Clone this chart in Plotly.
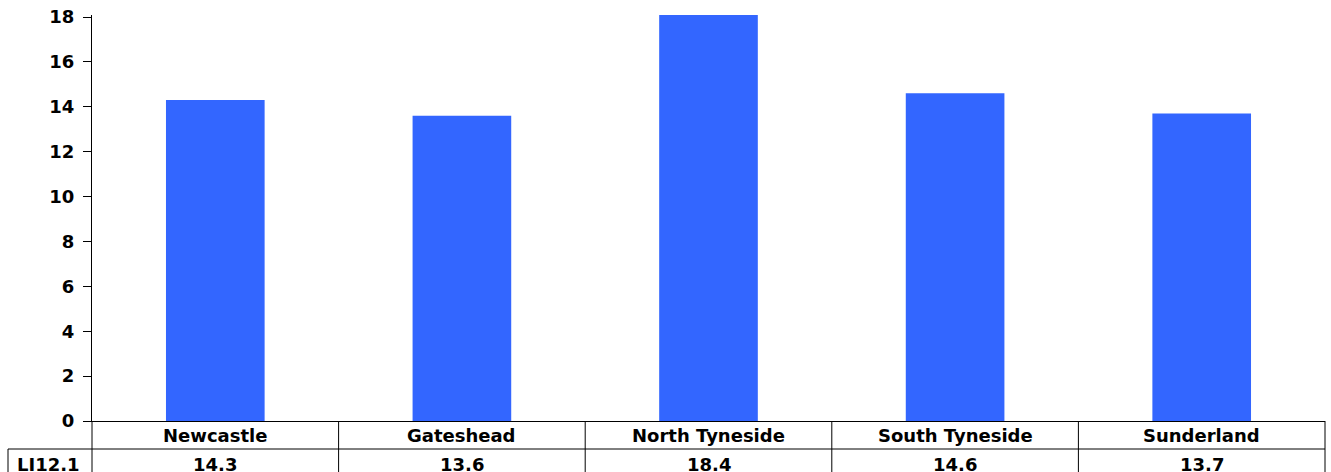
import plotly.graph_objects as go

categories = ["Newcastle", "Gateshead", "North Tyneside", "South Tyneside", "Sunderland"]
values = [14.3, 13.6, 18.4, 14.6, 13.7]
value_labels = ["14.3", "13.6", "18.4", "14.6", "13.7"]
row_label = "LI12.1"
y_ticks = [0, 2, 4, 6, 8, 10, 12, 14, 16, 18]

W, H = 1331, 472
L, R, T, B = 92, 6, 15, 51
pw = W - L - R
ph = H - T - B

def py(p):
    return (H - B - p) / ph

def px(p):
    return (p - L) / pw

FONT = "DejaVu Sans, Arial, sans-serif"

fig = go.Figure(go.Bar(
    x=list(range(len(categories))), y=values,
    marker=dict(color="#3366FF", line=dict(width=0)),
    width=0.4, hoverinfo="skip",
))

shapes = []
line = dict(color="black", width=1)
shapes.append(dict(type="line", xref="paper", yref="paper", x0=px(8), x1=1, y0=py(449), y1=py(449), line=line))
for i in range(len(categories) + 1):
    shapes.append(dict(type="line", xref="paper", yref="paper", x0=i / len(categories), x1=i / len(categories),
                       y0=0, y1=py(490), line=line))
shapes.append(dict(type="line", xref="paper", yref="paper", x0=px(8), x1=px(8), y0=py(449), y1=py(490), line=line))

ann = []
tfont = dict(family=FONT, size=18, color="black", weight="bold")
for i, (c, v) in enumerate(zip(categories, value_labels)):
    ann.append(dict(x=i, y=py(435.5), xref="x", yref="paper", text=c, showarrow=False,
                    font=tfont, xanchor="center", yanchor="middle"))
    ann.append(dict(x=i, y=py(464), xref="x", yref="paper", text=v, showarrow=False,
                    font=tfont, xanchor="center", yanchor="middle"))
ann.append(dict(x=px(48), y=py(464), xref="paper", yref="paper", text=row_label, showarrow=False,
                font=tfont, xanchor="center", yanchor="middle"))

fig.update_layout(
    width=W, height=H,
    margin=dict(l=L, r=R, t=T, b=B, pad=0),
    plot_bgcolor="white", paper_bgcolor="white",
    showlegend=False,
    shapes=shapes, annotations=ann,
    xaxis=dict(range=[-0.5, len(categories) - 0.5], showticklabels=False, ticks="",
               showgrid=False, zeroline=False, showline=True, linecolor="black", linewidth=1),
    yaxis=dict(range=[0, 18.09], tickvals=y_ticks, ticks="outside", ticklen=8, tickcolor="black",
               showgrid=False, zeroline=False, showline=True, linecolor="black", linewidth=1,
               tickfont=dict(family=FONT, size=18, color="black", weight="bold"),
               ticklabelstandoff=5),
)

fig.write_html("out.html")
